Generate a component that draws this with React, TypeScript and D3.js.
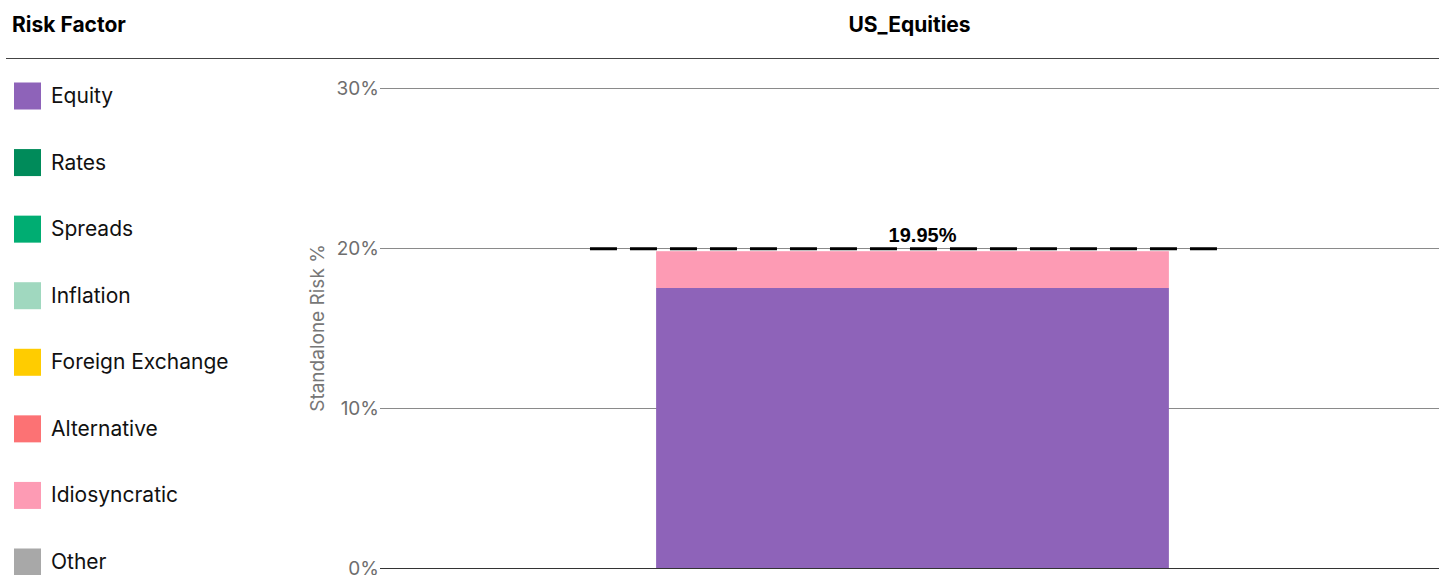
import React from "react";
import * as d3 from "d3";

const factors = ["Equity", "Rates", "Spreads", "Inflation", "Foreign Exchange", "Alternative", "Idiosyncratic", "Other"];
const factorColors = ["#8e63b9", "#008b5a", "#00ad72", "#a0d8bf", "#ffcc00", "#fc7274", "#fd9bb4", "#a8a8a8"];
const categories = ["US_Equities"];
// contribution of each factor for US_Equities, in %
const usEquitiesValues = [17.5, 0, 0, 0, 0, 0, 2.3, 0];
const totals = [19.95];
const yTicks = [0, 10, 20, 30];

const App: React.FC = () => {
  const svgRef = React.useRef<SVGSVGElement | null>(null);

  React.useEffect(() => {
    if (!svgRef.current) return;
    const svg = d3.select(svgRef.current);
    svg.selectAll("*").remove();

    const width = 1439;
    const height = 575;
    const font = "Inter, 'Noto Sans', sans-serif";
    svg.attr("width", width).attr("height", height);

    // header
    svg.append("text").attr("x", 12).attr("y", 32).text("Risk Factor")
      .attr("font-family", font).attr("font-weight", 700).attr("font-size", 21).attr("fill", "#000");

    const x = d3.scaleBand<string>().domain(categories).range([380, 1445]).padding(0.35);
    const y = d3.scaleLinear().domain([0, 30]).range([568, 88]);

    svg.append("text").attr("x", (x.range()[0] + 1439) / 2).attr("y", 32)
      .attr("text-anchor", "middle").text(categories[0])
      .attr("font-family", font).attr("font-weight", 700).attr("font-size", 21).attr("fill", "#000");

    svg.append("line").attr("x1", 6).attr("x2", width).attr("y1", 58.5).attr("y2", 58.5)
      .attr("stroke", "#444").attr("stroke-width", 1);

    // legend
    const legend = svg.append("g");
    const rowY = d3.scalePoint<string>().domain(factors).range([96, 562]);
    factors.forEach((f, i) => {
      const cy = rowY(f)!;
      legend.append("rect").attr("x", 14).attr("y", cy - 13.5).attr("width", 27).attr("height", 27)
        .attr("fill", factorColors[i]);
      legend.append("text").attr("x", 51).attr("y", cy + 7).text(f)
        .attr("font-family", font).attr("font-size", 21).attr("fill", "#111");
    });

    // grid + ticks
    const g = svg.append("g");
    yTicks.forEach((t) => {
      g.append("line").attr("x1", 380).attr("x2", width).attr("y1", y(t) + 0.5).attr("y2", y(t) + 0.5)
        .attr("stroke", t === 0 ? "#333" : "#8a8a8a").attr("stroke-width", 1);
      g.append("text").attr("x", 379).attr("y", y(t) + 7).attr("text-anchor", "end").text(`${t}%`)
        .attr("font-family", font).attr("font-size", 19).attr("fill", "#6e6e6e");
    });

    svg.append("text")
      .attr("transform", `translate(324, ${(y(0) + y(30)) / 2}) rotate(-90)`)
      .attr("text-anchor", "middle").text("Standalone Risk %")
      .attr("font-family", font).attr("font-size", 19).attr("fill", "#777");

    // stacked bar
    const row: Record<string, number | string> = { cat: categories[0] };
    factors.forEach((f, i) => (row[f] = usEquitiesValues[i]));
    const series = d3.stack<Record<string, any>>().keys(factors)([row]);
    const bars = svg.append("g");
    series.forEach((s, i) => {
      s.forEach((d) => {
        if (d[1] - d[0] <= 0) return;
        bars.append("rect").attr("x", x(d.data.cat)!).attr("width", x.bandwidth())
          .attr("y", y(d[1])).attr("height", y(d[0]) - y(d[1])).attr("fill", factorColors[i]);
      });
    });

    // total marker
    categories.forEach((c, i) => {
      const cx = x(c)! + x.bandwidth() / 2;
      const bw = x.bandwidth();
      svg.append("line").attr("x1", cx - bw * 0.629).attr("x2", cx + bw * 0.619)
        .attr("y1", y(totals[i])).attr("y2", y(totals[i]))
        .attr("stroke", "#000").attr("stroke-width", 3).attr("stroke-dasharray", "27,13");
      svg.append("text").attr("x", cx + 10).attr("y", y(totals[i]) - 7).attr("text-anchor", "middle")
        .text(`${totals[i].toFixed(2)}%`)
        .attr("font-family", "'Liberation Sans', Arial, sans-serif").attr("font-weight", 700)
        .attr("font-size", 20).attr("fill", "#000");
    });
  }, []);

  return <svg ref={svgRef} style={{ position: "absolute", left: 0, top: 0 }}></svg>;
};

export default App;
